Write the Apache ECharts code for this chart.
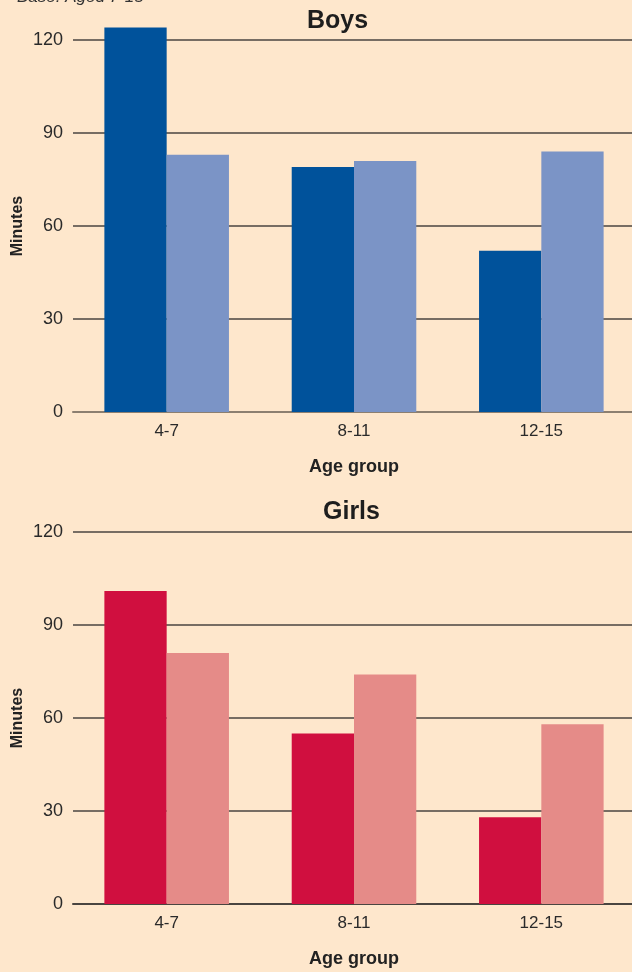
<!DOCTYPE html>
<html>
<head>
<meta charset="UTF-8">
<title>Boys and Girls</title>
<script src="https://cdn.jsdelivr.net/npm/echarts@6/dist/echarts.min.js"></script>
</head>
<body style="margin:0;background:#fee7cc;">
<div id="main" style="width:632px;height:972px;"></div>
<script type="text/javascript">
// data
var ageGroups = ['4-7', '8-11', '12-15'];
var boysA = [124, 79, 52];
var boysB = [83, 81, 84];
var girlsA = [101, 55, 28];
var girlsB = [81, 74, 58];
var yTicks = [0, 30, 60, 90, 120];

var font = '"Liberation Sans", Arial, sans-serif';

var chart = echarts.init(document.getElementById('main'), null, { renderer: 'canvas' });

function xAxisFor(idx, lineColor) {
  return {
    type: 'category',
    gridIndex: idx,
    data: ageGroups,
    axisTick: { show: false },
    axisLine: { show: true, lineStyle: { color: lineColor, width: 2 } },
    axisLabel: { color: '#2a2a2a', fontSize: 17, fontFamily: font, margin: 11 },
    name: 'Age group',
    nameLocation: 'middle',
    nameGap: 46,
    nameTextStyle: { color: '#222', fontSize: 18, fontWeight: 'bold', fontFamily: font }
  };
}

function yAxisFor(idx) {
  return {
    type: 'value',
    gridIndex: idx,
    min: yTicks[0],
    max: yTicks[yTicks.length - 1],
    interval: 30,
    axisLine: { show: false },
    axisTick: { show: false },
    axisLabel: { color: '#2a2a2a', fontSize: 18, fontFamily: font, margin: 10 },
    splitLine: { show: true, lineStyle: { color: '#4a4540', width: 1.5 } },
    name: 'Minutes',
    nameLocation: 'middle',
    nameGap: 47,
    nameMoveOverlap: false,
    nameTextStyle: { color: '#222', fontSize: 16, fontWeight: 'bold', fontFamily: font }
  };
}

function barSeries(idx, values, color) {
  return {
    type: 'bar',
    xAxisIndex: idx,
    yAxisIndex: idx,
    data: values,
    clip: false,
    barGap: '0%',
    barCategoryGap: '33.5%',
    itemStyle: { color: color },
    silent: true
  };
}

var options = {
  backgroundColor: '#fee7cc',
  animation: false,
  graphic: [
    { type: 'text', left: 17, top: -11,
      style: { text: 'Base: Aged 7-15', font: 'italic 17px ' + font, fill: '#333' } },
    { type: 'text', left: 307, top: 9,
      style: { text: 'Boys', font: 'bold 25px ' + font, fill: '#1e1e1e' } },
    { type: 'text', left: 323, top: 500,
      style: { text: 'Girls', font: 'bold 25px ' + font, fill: '#1e1e1e' } }
  ],
  grid: [
    { left: 73, right: -3, top: 40, height: 372, outerBoundsMode: 'none' },
    { left: 73, right: -3, top: 532, height: 372, outerBoundsMode: 'none' }
  ],
  xAxis: [xAxisFor(0, '#8c7f70'), xAxisFor(1, '#4a4540')],
  yAxis: [yAxisFor(0), yAxisFor(1)],
  series: [
    barSeries(0, boysA, '#00529b'),
    barSeries(0, boysB, '#7b94c6'),
    barSeries(1, girlsA, '#d00f3f'),
    barSeries(1, girlsB, '#e58b88')
  ]
};

chart.setOption(options);
</script>
</body>
</html>
